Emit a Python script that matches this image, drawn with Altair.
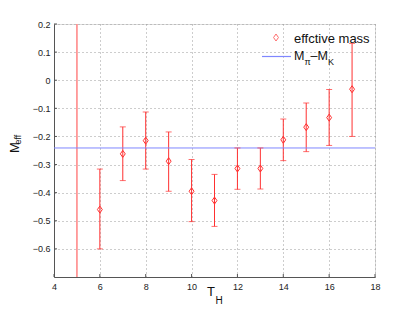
import altair as alt
import pandas as pd

# ---- data ----
t_vals = [6, 7, 8, 9, 10, 11, 12, 13, 14, 15, 16, 17]
m_eff = [-0.460, -0.262, -0.215, -0.288, -0.395, -0.428, -0.314, -0.314, -0.212, -0.167, -0.133, -0.032]
err_lo = [-0.600, -0.357, -0.316, -0.395, -0.503, -0.520, -0.388, -0.387, -0.286, -0.254, -0.232, -0.200]
err_hi = [-0.316, -0.166, -0.113, -0.184, -0.282, -0.335, -0.241, -0.241, -0.138, -0.081, -0.033, 0.131]

# point at T_H = 5 whose bar spans the whole visible range (clipped)
t_wide = [5]
wide_lo = [-1.0]
wide_hi = [0.3]

m_pi_minus_m_k = -0.241

x_ticks = [4, 6, 8, 10, 12, 14, 16, 18]
y_ticks = [-0.6, -0.5, -0.4, -0.3, -0.2, -0.1, 0.0, 0.1, 0.2]

FONT = "Liberation Sans"
RED = "#ff3030"
W, H = 321, 253

df = pd.DataFrame({"t": t_vals, "m": m_eff, "lo": err_lo, "hi": err_hi})
dw = pd.DataFrame({"t": t_wide, "lo": wide_lo, "hi": wide_hi})

xs = alt.Scale(domain=[4, 18], nice=False, zero=False)
ys = alt.Scale(domain=[-0.7, 0.2], nice=False, zero=False)

x_axis = alt.Axis(values=x_ticks, title=None, grid=True, gridDash=[1, 3], gridColor="#9a9a9a",
                  ticks=False, labelFontSize=9, labelPadding=5, labelFont=FONT, labelColor="#222",
                  domainColor="#555", labelFlush=False, labelOverlap=False)
y_axis = alt.Axis(values=y_ticks, title=None, grid=True, gridDash=[1, 3], gridColor="#9a9a9a",
                  ticks=False, labelFontSize=9, labelPadding=4, labelFont=FONT, labelColor="#222",
                  domainColor="#555", format="~g", labelOverlap=False, labelFlush=False)


def X(field):
    return alt.X(field, scale=xs, axis=x_axis)


def Y(field):
    return alt.Y(field, scale=ys, axis=y_axis)


base = alt.Chart(df)

bars = base.mark_rule(color=RED, strokeWidth=1).encode(x=X("t:Q"), y=Y("lo:Q"), y2="hi:Q")
cap_lo = base.mark_tick(color=RED, orient="horizontal", size=6, thickness=1).encode(x=X("t:Q"), y=Y("lo:Q"))
cap_hi = base.mark_tick(color=RED, orient="horizontal", size=6, thickness=1).encode(x=X("t:Q"), y=Y("hi:Q"))

diamond = "M0,-1L0.7,0L0,1L-0.7,0Z"
pts = base.mark_point(shape=diamond, size=49, filled=False, color=RED, strokeWidth=1, opacity=1).encode(
    x=X("t:Q"), y=Y("m:Q"))

wide = alt.Chart(dw).mark_rule(color="#ff8a8a", strokeWidth=1.6, clip=True).encode(
    x=X("t:Q"), y=Y("lo:Q"), y2="hi:Q")

hline = alt.Chart(pd.DataFrame({"v": [m_pi_minus_m_k]})).mark_rule(color="#7f87ff", strokeWidth=1).encode(
    y=Y("v:Q"))

# inward tick marks
ytk = alt.Chart(pd.DataFrame({"v": y_ticks})).mark_rule(color="#555").encode(
    y=Y("v:Q"), x=alt.value(0), x2=alt.value(3))
xtk = alt.Chart(pd.DataFrame({"v": x_ticks})).mark_rule(color="#555").encode(
    x=X("v:Q"), y=alt.value(H), y2=alt.value(H - 3))


def label(txt, x, y, size, angle=0, color="#111"):
    return alt.Chart(pd.DataFrame({"s": [txt]})).mark_text(
        font=FONT, fontSize=size, align="left", baseline="alphabetic", angle=angle, color=color
    ).encode(text="s:N", x=alt.value(x), y=alt.value(y))


# legend
leg_pt = alt.Chart(pd.DataFrame({"s": ["a"]})).mark_point(
    shape=diamond, size=49, filled=False, color=RED, strokeWidth=1
).encode(x=alt.value(222), y=alt.value(13.5))
leg_line = alt.Chart(pd.DataFrame({"s": ["a"]})).mark_rule(color="#7f87ff", strokeWidth=1.2).encode(
    x=alt.value(208), x2=alt.value(237), y=alt.value(32.5))

texts = [
    label("effctive mass", 240, 18.5, 13),
    label("M", 240, 36, 12.5),
    label("π", 250.5, 41, 9),
    label("–M", 256.5, 36, 12.5),
    label("K", 274, 41, 9),
    # axis titles
    label("M", -35.5, 129, 13, angle=270),
    label("eff", -33.5, 120.5, 9, angle=270),
    label("T", 153, 272, 13),
    label("H", 161.5, 280, 10),
]

chart = alt.layer(bars, wide, hline, cap_lo, cap_hi, pts, ytk, xtk, leg_pt, leg_line, *texts).properties(
    width=W, height=H,
    autosize=alt.AutoSizeParams(type="none"),
    padding={"left": 46, "top": 16, "right": 32, "bottom": 28},
).configure_view(stroke=None).configure(background="white")

chart.save("out.html", embed_options={"renderer": "svg", "actions": False})
